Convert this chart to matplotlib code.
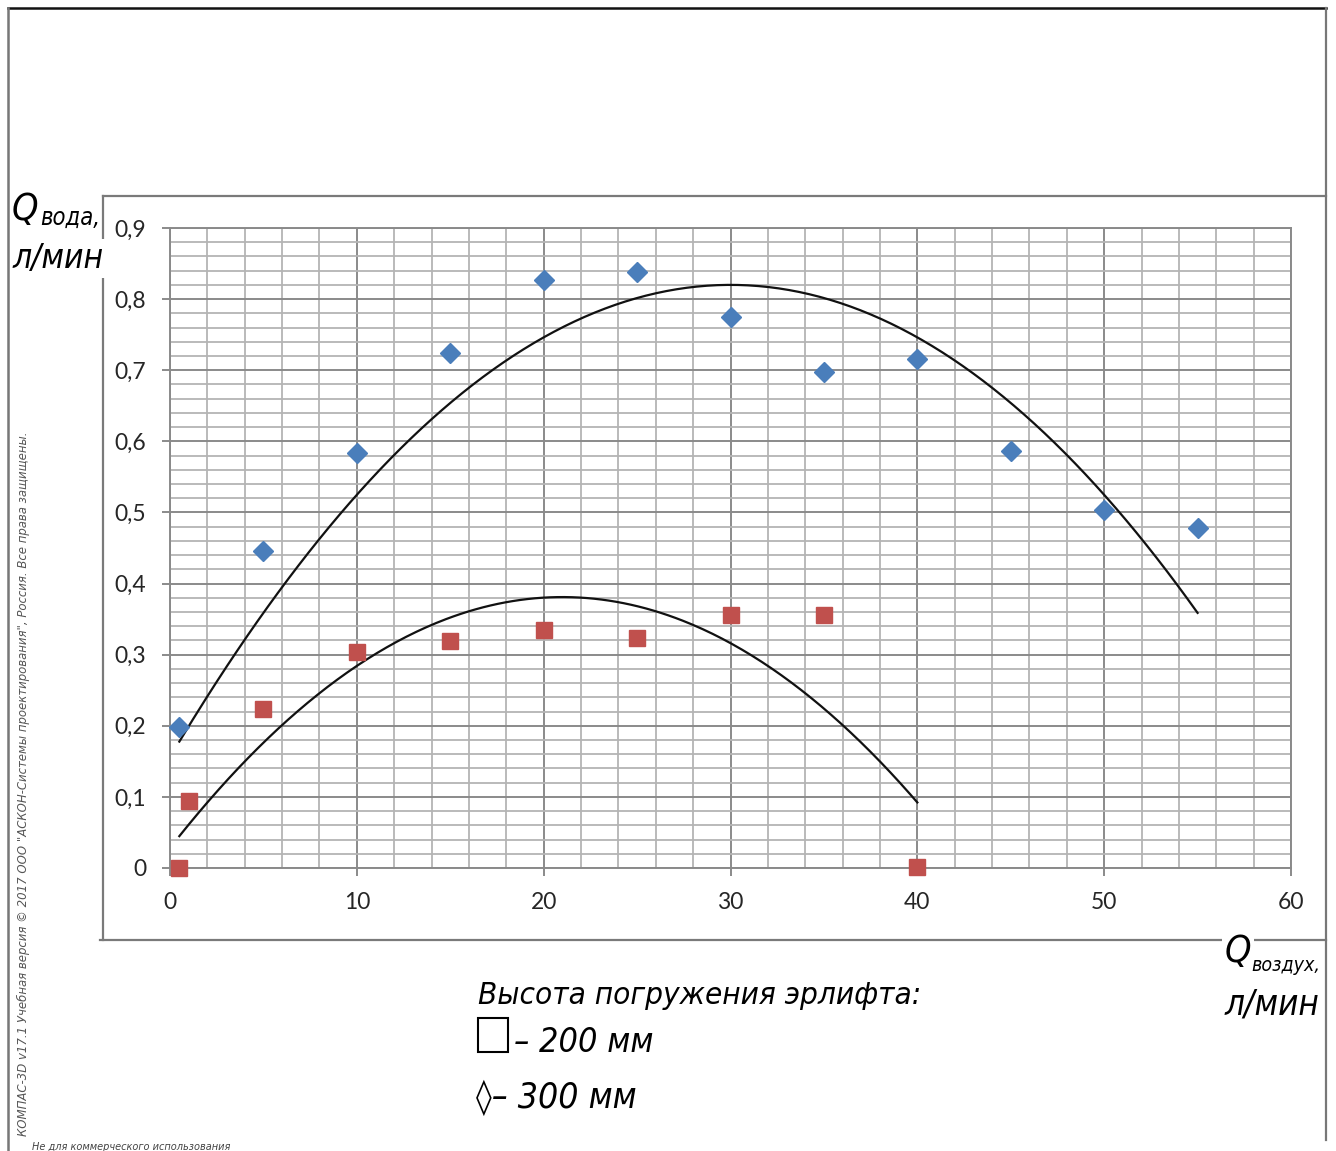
import numpy as np
import matplotlib
matplotlib.use("Agg")
import matplotlib.pyplot as plt
from matplotlib.lines import Line2D
from matplotlib.patches import Rectangle
from matplotlib.ticker import MultipleLocator, FuncFormatter
from matplotlib import font_manager as fm

# ---- data ----
x_300 = [0.5, 5, 10, 15, 20, 25, 30, 35, 40, 45, 50, 55]
q_300 = [0.198, 0.446, 0.584, 0.724, 0.827, 0.838, 0.775, 0.698, 0.716, 0.587, 0.503, 0.478]
x_200 = [0.5, 1, 5, 10, 15, 20, 25, 30, 35, 40]
q_200 = [0.0, 0.094, 0.224, 0.304, 0.319, 0.335, 0.323, 0.356, 0.356, 0.002]
# 2nd-order trend line coefficients (a, b, c)
trend_300 = [-0.000738, 0.04428, 0.1558]
trend_200 = [-0.0008, 0.0336, 0.0282]
x_ticks = [0, 10, 20, 30, 40, 50, 60]
y_ticks = [0, 0.1, 0.2, 0.3, 0.4, 0.5, 0.6, 0.7, 0.8, 0.9]

W, H = 1336, 1151
fig = plt.figure(figsize=(W / 100, H / 100), dpi=100)
fig.patch.set_facecolor("white")

def P(px, py):
    return px / W, 1 - py / H

names = {f.name for f in fm.fontManager.ttflist}
GOST = [n for n in ["Liberation Sans Narrow", "DejaVu Sans"] if n in names] or ["DejaVu Sans"]
TXT = dict(style="italic", family=GOST, stretch="condensed")

# axes in pixel box
l, r, t, b = 170, 1291, 228, 868
ax = fig.add_axes([l / W, 1 - b / H, (r - l) / W, (b - t) / H])
ax.set_xlim(0, 60)
ax.set_ylim(0, 0.9)
ax.xaxis.set_minor_locator(MultipleLocator(2))
ax.yaxis.set_minor_locator(MultipleLocator(0.02))
ax.set_xticks(x_ticks)
ax.set_yticks(y_ticks)
ax.xaxis.set_major_formatter(FuncFormatter(lambda v, p: f"{v:g}"))
ax.yaxis.set_major_formatter(FuncFormatter(lambda v, p: f"{v:.1f}".replace(".", ",") if abs(v) > 1e-9 else "0"))
ax.grid(which="minor", color="#b4b4b4", linewidth=1.3)
ax.grid(which="major", color="#8a8a8a", linewidth=1.4)
ax.set_axisbelow(True)
for s in ax.spines.values():
    s.set_color("#8a8a8a")
    s.set_linewidth(1.4)
ax.tick_params(which="major", direction="out", length=6, width=1.4, color="#8a8a8a",
               labelsize=16.5, labelcolor="#262626", pad=11)
ax.tick_params(which="minor", length=0)
for lab in ax.get_xticklabels() + ax.get_yticklabels():
    lab.set_family(["Lato", "DejaVu Sans"])

# trend lines (2nd order polynomial)
for xs, coef in ((x_300, trend_300), (x_200, trend_200)):
    xx = np.linspace(min(xs), max(xs), 300)
    ax.plot(xx, np.polyval(coef, xx), color="#111111", linewidth=1.6, zorder=3)

ax.plot(x_300, q_300, linestyle="none", marker="D", markersize=10,
        color="#4a7ebb", markeredgecolor="#4a7ebb", zorder=4, clip_on=False)
ax.plot(x_200, q_200, linestyle="none", marker="s", markersize=12,
        color="#c0504d", markeredgecolor="#c0504d", zorder=4, clip_on=False)

# ---- frame lines ----
def line(p1, p2, color="#7a7a7a", lw=1.6, z=1):
    (x1, y1), (x2, y2) = P(*p1), P(*p2)
    fig.add_artist(Line2D([x1, x2], [y1, y2], color=color, linewidth=lw, zorder=z))

line((8, 8), (1326, 8), color="#111111", lw=1.8, z=10)
line((8, 8), (8, 1151), color="#777777", lw=1.8, z=10)
line((1326, 8), (1326, 1140), color="#777777", lw=1.6, z=10)
line((103, 196), (1326, 196))
line((103, 196), (103, 940))
line((100, 940), (1326, 940))

# ---- axis labels ----
wbg = dict(facecolor="white", edgecolor="none", pad=2)
fig.text(*P(12, 220), "Q", fontsize=27, ha="left", va="baseline", **TXT)
fig.text(*P(40, 225), "вода,", fontsize=17, ha="left", va="baseline", **TXT)
fig.text(*P(12, 268), "л/мин", fontsize=24, ha="left", va="baseline", bbox=wbg, **TXT)

fig.text(*P(1225, 962), "Q", fontsize=27, ha="left", va="baseline", bbox=wbg, **TXT)
fig.text(*P(1251, 971), "воздух,", fontsize=14, ha="left", va="baseline", **TXT)
fig.text(*P(1224, 1015), "л/мин", fontsize=25, ha="left", va="baseline", **TXT)

# ---- legend text ----
fig.text(*P(478, 1004), "Высота погружения эрлифта:", fontsize=22.5, ha="left", va="baseline", **TXT)
x1, y1 = P(478, 1052)
x2, y2 = P(508, 1018)
fig.add_artist(Rectangle((x1, y1), x2 - x1, y2 - y1, transform=fig.transFigure,
                         fill=False, edgecolor="black", linewidth=1.5))
fig.text(*P(514, 1052), "– 200 мм", fontsize=24.5, ha="left", va="baseline", **TXT)
fig.text(*P(476, 1108), "◊– 300 мм", fontsize=25.5, ha="left", va="baseline", **TXT)

# ---- watermark ----
fig.text(*P(23, 1136), 'КОМПАС-3D v17.1 Учебная версия © 2017 ООО "АСКОН-Системы проектирования", Россия. Все права защищены.',
         rotation=90, fontsize=9.4, color="#555555", ha="center", va="bottom", **TXT)
fig.text(*P(32, 1150), "Не для коммерческого использования", fontsize=7.8,
         color="#444444", ha="left", va="baseline", **TXT)

fig.savefig("out.png", dpi=100, facecolor="white")
